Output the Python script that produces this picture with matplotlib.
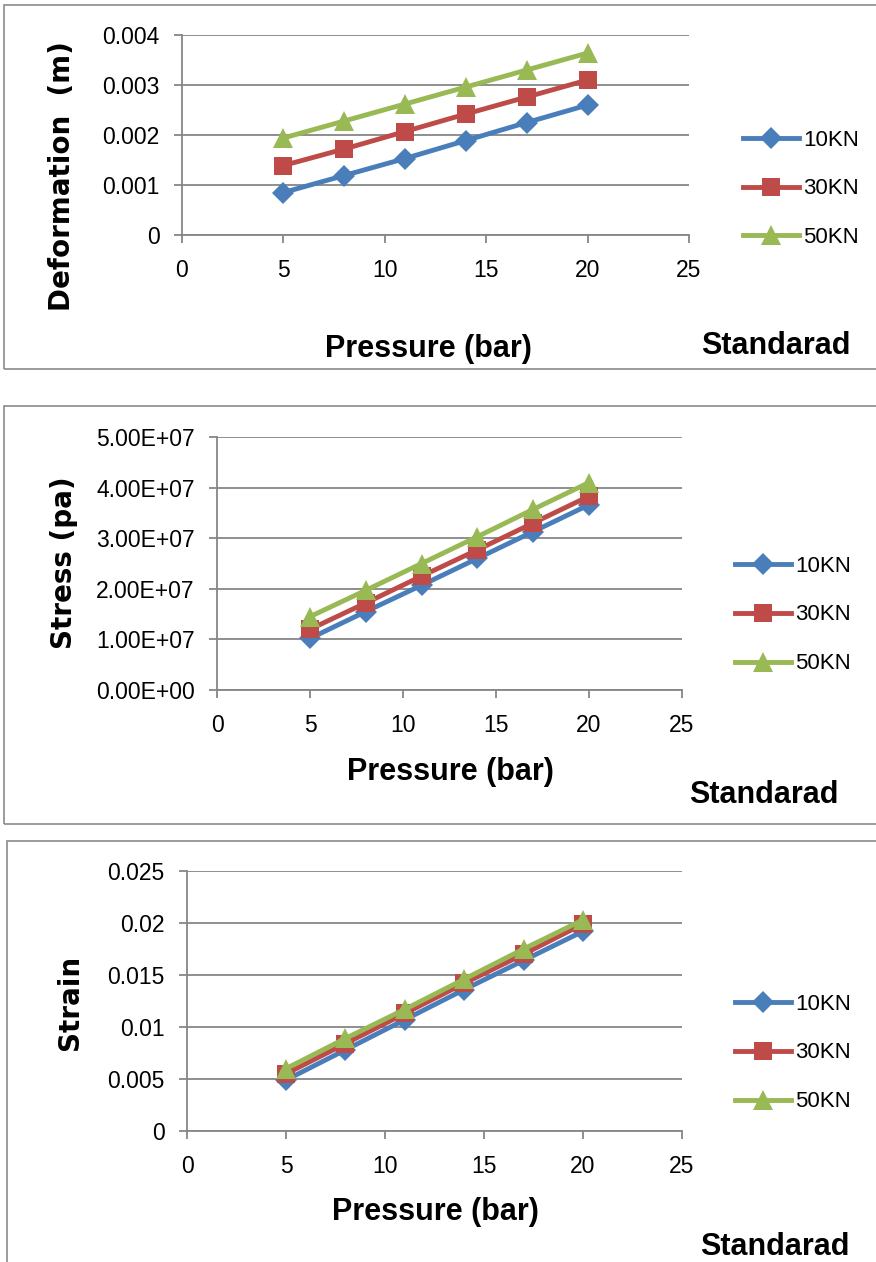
import matplotlib
matplotlib.use("Agg")
import matplotlib.pyplot as plt
from matplotlib.patches import Rectangle
from matplotlib.ticker import FuncFormatter, MultipleLocator

W, H = 876, 1262

# data
pressure = [5, 8, 11, 14, 17, 20]
loads = ["10KN", "30KN", "50KN"]

deform_10 = [0.00085, 0.00119, 0.00153, 0.00189, 0.00225, 0.0026]
deform_30 = [0.00139, 0.00172, 0.00207, 0.00242, 0.00276, 0.0031]
deform_50 = [0.00194, 0.00228, 0.00262, 0.00296, 0.0033, 0.00364]

stress_10 = [1.02e7, 1.55e7, 2.07e7, 2.6e7, 3.13e7, 3.66e7]
stress_30 = [1.2e7, 1.72e7, 2.25e7, 2.77e7, 3.3e7, 3.83e7]
stress_50 = [1.45e7, 1.97e7, 2.5e7, 3.03e7, 3.57e7, 4.1e7]

strain_10 = [0.0049, 0.0078, 0.0107, 0.0136, 0.0164, 0.0192]
strain_30 = [0.0055, 0.0084, 0.0113, 0.0142, 0.0170, 0.0199]
strain_50 = [0.0060, 0.0089, 0.0117, 0.0146, 0.0175, 0.0203]

colors = ["#4A7EBB", "#BE4B48", "#98B954"]
markers = ["D", "s", "^"]
msizes = [11.5, 13.5, 15]
grid_c = "#868686"


def px(x):
    return x / W


def py(y):
    return 1 - y / H


fig = plt.figure(figsize=(W / 100, H / 100), dpi=100)
plt.rcParams['font.family'] = ['Liberation Sans', 'DejaVu Sans']


def panel(box, frame, series, ylim, ystep, fmt, ylabel, ylab_xy, xlab_xy, std_xy, leg_xy):
    l, t, r, b = box
    ax = fig.add_axes([px(l), py(b), px(r - l), py(t) - py(b)])
    for vals, lab, c, m, ms in zip(series, loads, colors, markers, msizes):
        ax.plot(pressure, vals, color=c, lw=3.5, marker=m, markersize=ms,
                markeredgewidth=0, label=lab, clip_on=False)
    ax.set_xlim(0, 25)
    ax.set_ylim(*ylim)
    ax.xaxis.set_major_locator(MultipleLocator(5))
    ax.yaxis.set_major_locator(MultipleLocator(ystep))
    ax.yaxis.set_major_formatter(FuncFormatter(fmt))
    ax.grid(axis="y", color=grid_c, lw=1.3)
    ax.set_axisbelow(True)
    for s in ["top", "right"]:
        ax.spines[s].set_visible(False)
    for s in ["left", "bottom"]:
        ax.spines[s].set_color(grid_c)
        ax.spines[s].set_linewidth(1.3)
    ax.tick_params(axis="both", colors=grid_c, labelcolor="black", labelsize=16.5,
                   length=6, width=1.3)
    ax.tick_params(axis="x", pad=11)
    ax.tick_params(axis="y", pad=10)

    fig.text(px(ylab_xy[0]), py(ylab_xy[1]), ylabel, rotation=90, ha="center",
             va="center", fontsize=20, fontweight="bold", family="DejaVu Sans")
    fig.text(px(xlab_xy[0]), py(xlab_xy[1]), "Pressure (bar)", ha="center",
             va="center", fontsize=22, fontweight="bold")
    fig.text(px(std_xy[0]), py(std_xy[1]), "Standarad", ha="center",
             va="center", fontsize=22, fontweight="bold")

    ax.legend(loc="center left", bbox_to_anchor=(px(leg_xy[0]), py(leg_xy[1])),
              bbox_transform=fig.transFigure, frameon=False, fontsize=16,
              numpoints=1, handlelength=2.5, handletextpad=0.2,
              labelspacing=1.25, borderpad=0, borderaxespad=0)

    fl, ft, fr, fb = frame
    fig.add_artist(Rectangle((px(fl), py(fb)), px(fr - fl), py(ft) - py(fb),
                             transform=fig.transFigure, fill=False,
                             edgecolor="#8a8a8a", lw=1.2))
    return ax


g = lambda v, pos: "%g" % v
e = lambda v, pos: "%.2E" % v

panel((182, 35, 689, 235), (4, 5, 880, 369),
      [deform_10, deform_30, deform_50], (0, 0.004), 0.001, g,
      "Deformation  (m)", (62, 176), (428, 349), (776, 346), (743, 189))

panel((217, 437, 682, 690), (4, 406, 880, 824),
      [stress_10, stress_30, stress_50], (0, 5e7), 1e7, e,
      "Stress (pa)", (64, 563), (450, 772), (764, 795), (735, 615))

panel((187, 871, 682, 1131), (7, 841, 880, 1275),
      [strain_10, strain_30, strain_50], (0, 0.025), 0.005, g,
      "Strain", (70, 1002), (435, 1212), (775, 1247), (735, 1053))

fig.savefig("out.png", dpi=100)
